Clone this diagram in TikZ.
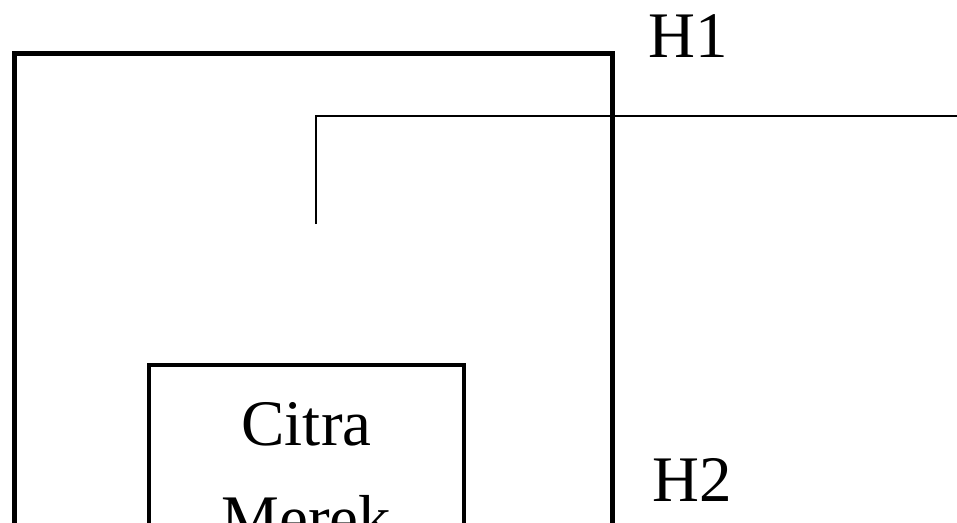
\documentclass[tikz,border=0pt]{standalone}
\usepackage{fontspec}
\setmainfont{Liberation Serif}
\begin{document}
\begin{tikzpicture}[x=1pt,y=-1pt,
  outerbox/.style={draw=black,line width=5pt},
  innerbox/.style={draw=black,line width=4pt},
  conn/.style={draw=black,line width=2.8pt},
  lbl/.style={inner sep=0pt,anchor=base,font=\fontsize{65}{95}\selectfont}]
\useasboundingbox (0,0) rectangle (957,522);
\clip (0,0) rectangle (957,522);
\draw[outerbox] (14,560) -- (14,53) -- (612,53) -- (612,560);
\draw[innerbox] (149,560) -- (149,365) -- (464,365) -- (464,560);
\coordinate (cstart) at (316,224);
\coordinate (cbend) at (316,116);
\coordinate (cend) at (960,116);
\draw[conn] (cstart) -- (cbend) -- (cend);
\node[lbl] (h1) at (688,57) {H1};
\node[lbl] (h2) at (692,501) {H2};
\node[lbl] (citra) at (306.5,445) {Citra};
\node[lbl] (merek) at (306.5,540) {Merek};
\end{tikzpicture}
\end{document}
